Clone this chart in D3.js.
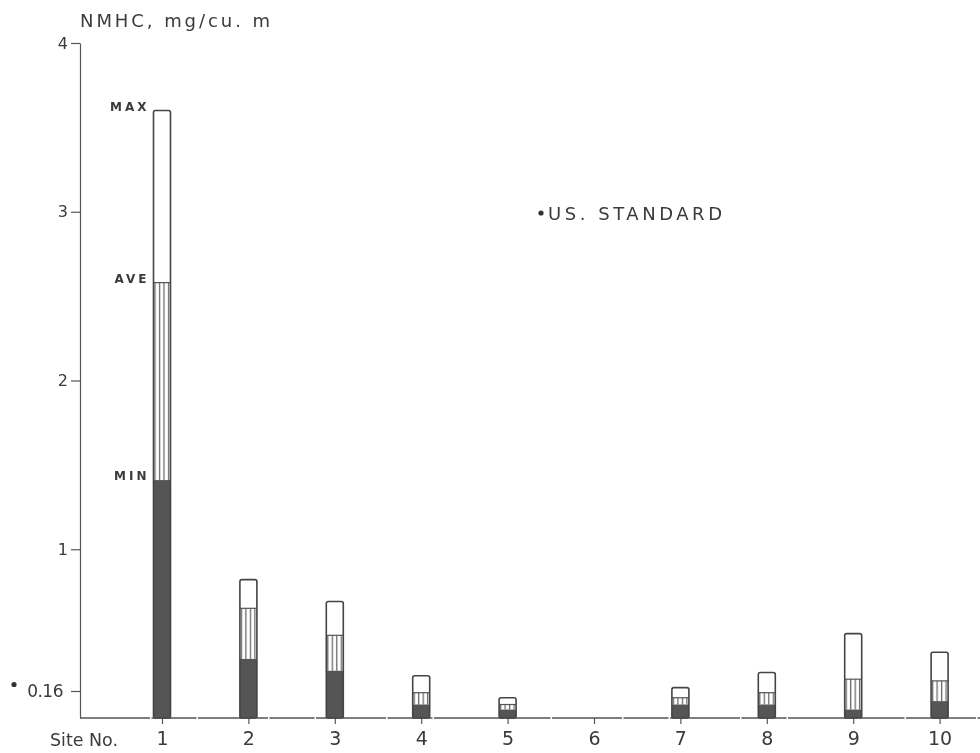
<!DOCTYPE html>
<html>
<head>
<meta charset="utf-8">
<script src="https://cdn.jsdelivr.net/npm/d3@7"></script>
<style>
  html, body { margin: 0; padding: 0; background: #fff; }
  svg { display: block; }
  text { font-family: "DejaVu Sans", "Liberation Sans", sans-serif; fill: #3a3a3a; }
</style>
</head>
<body>
<svg id="chart" width="980" height="753"></svg>
<script>
// NMHC concentrations per sampling site (mg/cu.m)
const sites      = [1, 2, 3, 4, 5, 6, 7, 8, 9, 10];
const siteLabels = ["1", "2", "3", "4", "5", "6", "7", "8", "9", "10"];
const maxVals    = [3.60, 0.82, 0.69, 0.25, 0.12, null, 0.18, 0.27, 0.50, 0.39];
const aveVals    = [2.58, 0.65, 0.49, 0.15, 0.08, null, 0.12, 0.15, 0.23, 0.22];
const minVals    = [1.41, 0.35, 0.28, 0.08, 0.05, null, 0.08, 0.08, 0.05, 0.10];
const yTicks     = [0.16, 1, 2, 3, 4];
const usStandard = 0.16;

const width = 980, height = 753;
const svg = d3.select("#chart");

const defs = svg.append("defs");
const hatch = defs.append("pattern")
  .attr("id", "hatch").attr("patternUnits", "userSpaceOnUse")
  .attr("width", 4.5).attr("height", 8);
hatch.append("rect").attr("width", 4.5).attr("height", 8).attr("fill", "#fff");
hatch.append("line").attr("x1", 1.5).attr("x2", 1.5).attr("y1", 0).attr("y2", 8)
  .attr("stroke", "#6a6a6a").attr("stroke-width", 1.3);

defs.append("filter").attr("id", "soft")
  .append("feGaussianBlur").attr("stdDeviation", 0.35);

const g = svg.append("g").attr("filter", "url(#soft)");

const x = d3.scaleLinear().domain([0, 10]).range([75.6, 939.6]);
const y = d3.scaleLinear().domain([0, 4]).range([718, 43]);
const axisX = 80;
const barW = 17;

// y axis
const yAxis = g.append("g")
  .attr("transform", `translate(${axisX},0)`)
  .call(d3.axisLeft(y).tickValues(yTicks).tickSize(9).tickSizeOuter(0).tickPadding(3)
    .tickFormat(d => d === usStandard ? "0.16" : d3.format("d")(d)));
yAxis.select(".domain").attr("stroke", "#555").attr("stroke-width", 1.2);
yAxis.selectAll(".tick line").attr("stroke", "#555").attr("stroke-width", 1.2);
yAxis.selectAll(".tick text")
  .attr("font-family", "DejaVu Sans")
  .attr("font-size", d => d === usStandard ? 17 : 16)
  .attr("letter-spacing", d => d === usStandard ? -0.5 : 0)
  .attr("dx", d => d === usStandard ? -5 : 0)
  .attr("fill", "#3a3a3a");
yAxis.selectAll(".tick").filter(d => d === usStandard)
  .append("circle").attr("cx", -66).attr("cy", -7).attr("r", 2.6).attr("fill", "#333");

// x axis
g.append("line")
  .attr("x1", axisX).attr("x2", width).attr("y1", y(0)).attr("y2", y(0))
  .attr("stroke", "#555").attr("stroke-width", 1.3).attr("stroke-dasharray", "70 1.5 45 1.5");
const xAxis = g.append("g")
  .attr("transform", `translate(0,${y(0)})`)
  .call(d3.axisBottom(x).tickValues(sites).tickSize(6).tickPadding(8)
    .tickFormat((d, i) => siteLabels[i]));
xAxis.select(".domain").remove();
xAxis.selectAll(".tick line").attr("stroke", "#555").attr("stroke-width", 1.2);
xAxis.selectAll(".tick text")
  .attr("font-family", "DejaVu Sans")
  .attr("font-size", 19).attr("fill", "#3a3a3a");

g.append("text").attr("x", 50).attr("y", 746)
  .attr("font-size", 18).attr("textLength", 68).attr("lengthAdjust", "spacingAndGlyphs")
  .text("Site No.");

// stacked bars: min (solid), min..ave (hatched), ave..max (open)
const rows = sites.map((s, i) => ({ site: s, min: minVals[i], ave: aveVals[i], max: maxVals[i] }))
  .filter(d => d.max != null);

const bars = g.append("g").selectAll("g").data(rows).join("g")
  .attr("transform", d => `translate(${x(d.site) - barW / 2},0)`);

bars.append("rect")
  .attr("y", d => y(d.max)).attr("height", d => y(0) - y(d.max))
  .attr("width", barW).attr("rx", 2).attr("fill", "#fff");
bars.append("rect")
  .attr("y", d => y(d.ave)).attr("height", d => y(d.min) - y(d.ave))
  .attr("width", barW).attr("fill", "url(#hatch)");
bars.append("rect")
  .attr("y", d => y(d.min)).attr("height", d => y(0) - y(d.min))
  .attr("width", barW).attr("fill", "#545454");
bars.append("line")
  .attr("x1", 0).attr("x2", barW).attr("y1", d => y(d.ave)).attr("y2", d => y(d.ave))
  .attr("stroke", "#555").attr("stroke-width", 1.2);
bars.append("rect")
  .attr("y", d => y(d.max)).attr("height", d => y(0) - y(d.max))
  .attr("width", barW).attr("rx", 2).attr("fill", "none")
  .attr("stroke", "#444").attr("stroke-width", 1.6);

// MAX / AVE / MIN key beside site 1
const first = rows[0];
const keyX = x(first.site) - barW / 2 - 4;
[["MAX", first.max], ["AVE", first.ave], ["MIN", first.min]].forEach(([t, v]) => {
  g.append("text").attr("x", keyX).attr("y", y(v))
    .attr("text-anchor", "end").attr("font-size", 12).attr("font-weight", "bold")
    .attr("letter-spacing", 3).attr("fill", "#444").text(t);
});

// axis title
g.append("text").attr("x", 80).attr("y", 27)
  .attr("font-size", 18).attr("textLength", 190).attr("lengthAdjust", "spacing")
  .text("NMHC, mg/cu. m");

// US standard note
g.append("circle").attr("cx", 541).attr("cy", 213).attr("r", 2.6).attr("fill", "#333");
g.append("text").attr("x", 548).attr("y", 220)
  .attr("font-size", 18).attr("textLength", 174).attr("lengthAdjust", "spacing")
  .text("US. STANDARD");
</script>
</body>
</html>
